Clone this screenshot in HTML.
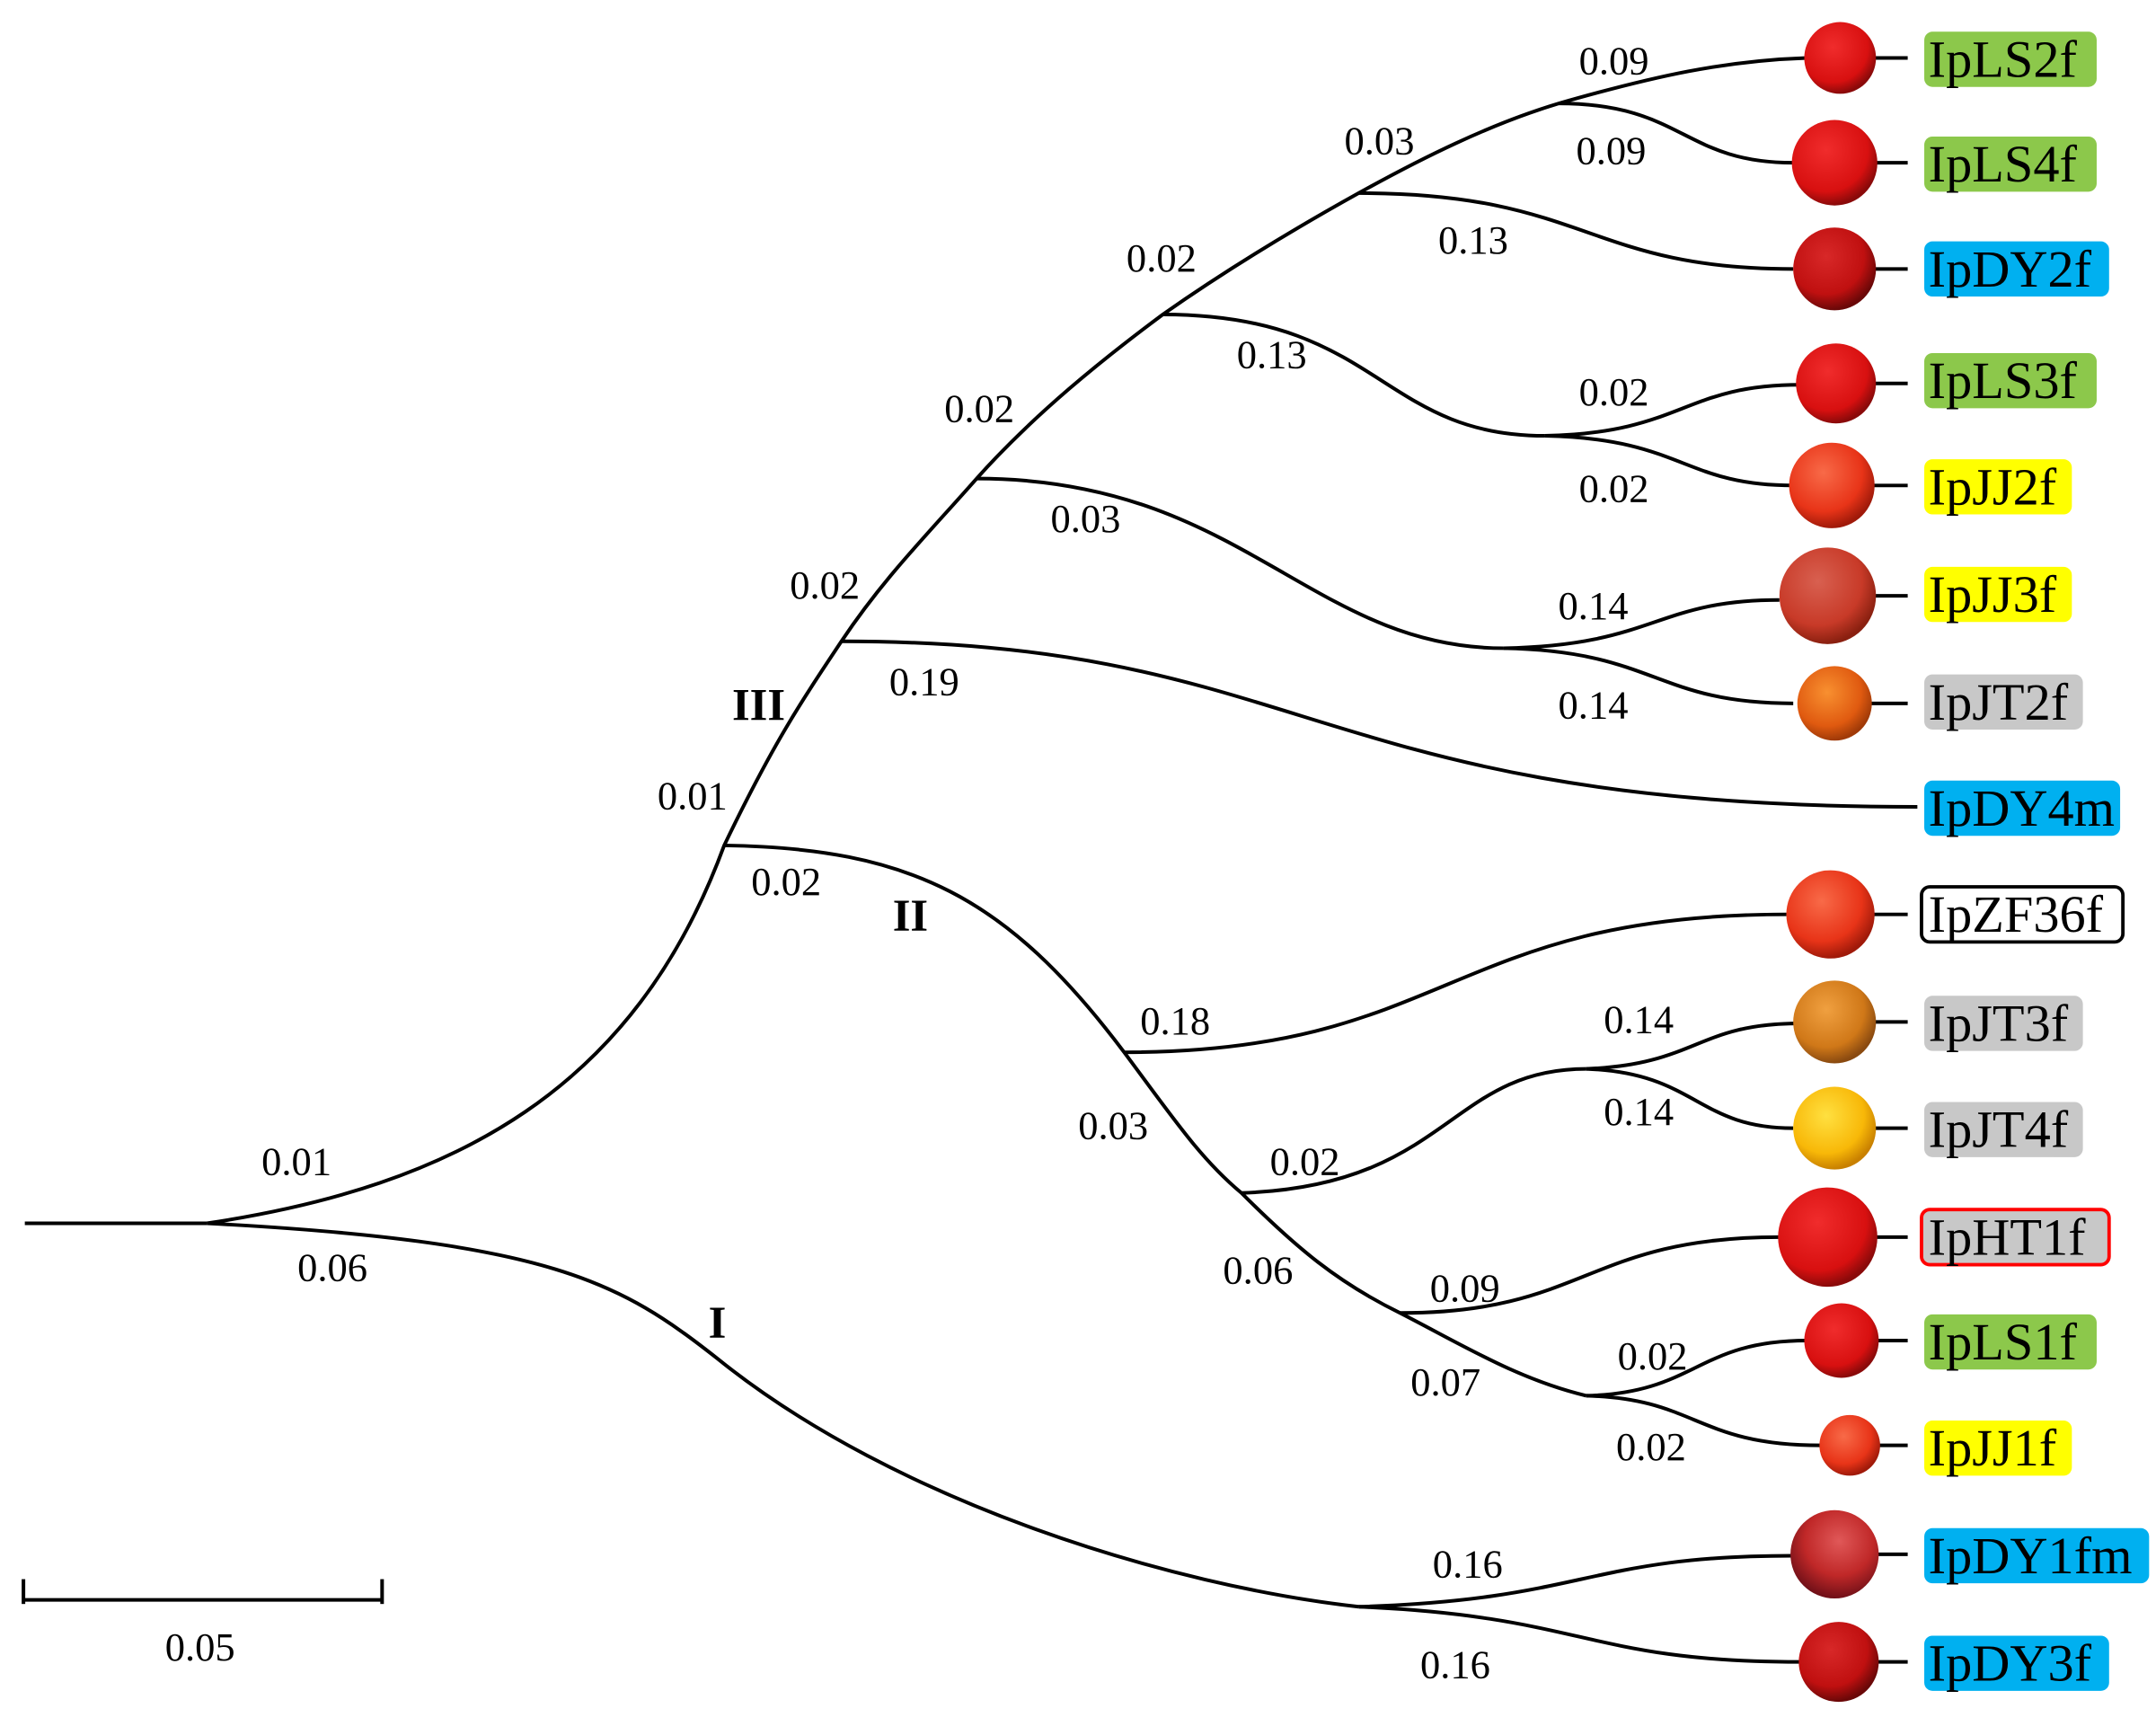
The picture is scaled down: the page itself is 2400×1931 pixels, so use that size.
<!DOCTYPE html>
<html><head><meta charset="utf-8"><style>
html,body{margin:0;padding:0;background:#fff}
svg{display:block}
text{font-family:"Liberation Serif",serif}
.n{font-size:29px;text-anchor:middle;dominant-baseline:central;fill:#000}
.l{font-size:38px;dominant-baseline:central;fill:#000}
.r{font-size:33px;font-weight:bold;text-anchor:middle;dominant-baseline:central}
path,line{fill:none;stroke:#000;stroke-width:2.6}
</style></head><body>
<svg width="2400" height="1931" viewBox="0 0 1563 1258" preserveAspectRatio="none" xmlns="http://www.w3.org/2000/svg">
<defs>
<radialGradient id="red" cx="40%" cy="35%" r="65%"><stop offset="0" stop-color="#f02c2c"/><stop offset="0.75" stop-color="#d81010"/><stop offset="1" stop-color="#8a0a0a"/></radialGradient>
<radialGradient id="dred" cx="40%" cy="35%" r="65%"><stop offset="0" stop-color="#d82828"/><stop offset="0.7" stop-color="#c01010"/><stop offset="1" stop-color="#6a0808"/></radialGradient>
<radialGradient id="ored" cx="40%" cy="35%" r="65%"><stop offset="0" stop-color="#f86a48"/><stop offset="0.7" stop-color="#e83418"/><stop offset="1" stop-color="#a01a0a"/></radialGradient>
<radialGradient id="org" cx="40%" cy="35%" r="65%"><stop offset="0" stop-color="#f89030"/><stop offset="0.7" stop-color="#e05a10"/><stop offset="1" stop-color="#a03a08"/></radialGradient>
<radialGradient id="brn" cx="40%" cy="35%" r="65%"><stop offset="0" stop-color="#f0a040"/><stop offset="0.7" stop-color="#d07818"/><stop offset="1" stop-color="#8a4a10"/></radialGradient>
<radialGradient id="yel" cx="40%" cy="35%" r="65%"><stop offset="0" stop-color="#ffe040"/><stop offset="0.7" stop-color="#f8b808"/><stop offset="1" stop-color="#c88000"/></radialGradient>
<radialGradient id="jj3" cx="40%" cy="35%" r="65%"><stop offset="0" stop-color="#d86050"/><stop offset="0.7" stop-color="#c83a28"/><stop offset="1" stop-color="#8a2010"/></radialGradient>
<radialGradient id="dy1" cx="55%" cy="35%" r="65%"><stop offset="0" stop-color="#e05858"/><stop offset="0.6" stop-color="#c02828"/><stop offset="1" stop-color="#701018"/></radialGradient>
</defs>

<line x1="18" y1="887" x2="150" y2="887"/>
<path d="M150,887 C330,860 460,790 525,613 C560,540 580,510 610,465 C640,420 670,390 708,347 C750,300 800,260 843,228 C890,195 940,165 985,140 C1030,115 1080,90 1130,75 C1200,55 1250,44 1310,42"/>
<path d="M150,887 C400,900 450,930 520,985 C650,1090 850,1150 985,1165"/>
<path d="M985,1165 C1150,1160 1150,1128 1300,1128"/>
<path d="M985,1165 C1150,1172 1150,1205 1305,1205"/>
<path d="M525,613 C660,615 730,650 815,763 C850,810 870,840 900,865 C940,905 970,930 1015,952 C1060,975 1100,1000 1150,1012"/>
<path d="M815,763 C1050,763 1050,663 1295,663"/>
<path d="M900,865 C1050,860 1050,775 1150,775"/>
<path d="M1150,775 C1230,772 1230,742 1305,742"/>
<path d="M1150,775 C1230,778 1230,818 1300,818"/>
<path d="M1015,952 C1150,952 1150,897 1290,897"/>
<path d="M1150,1012 C1230,1010 1230,972 1310,972"/>
<path d="M1150,1012 C1230,1014 1230,1048 1320,1048"/>
<path d="M610,465 C950,465 950,585 1390,585"/>
<path d="M708,347 C900,347 950,470 1090,470"/>
<path d="M1090,470 C1200,468 1200,435 1290,435"/>
<path d="M1090,470 C1200,472 1200,510 1300,510"/>
<path d="M843,228 C1000,228 1000,316 1120,316"/>
<path d="M1120,316 C1220,314 1220,279 1305,279"/>
<path d="M1120,316 C1220,318 1220,352 1300,352"/>
<path d="M985,140 C1150,140 1150,195 1300,195"/>
<path d="M1130,75 C1220,75 1220,118 1300,118"/>

<g>
<line x1="1350" y1="42" x2="1383" y2="42"/><line x1="1350" y1="118" x2="1383" y2="118"/>
<line x1="1350" y1="195" x2="1383" y2="195"/><line x1="1350" y1="278" x2="1383" y2="278"/>
<line x1="1350" y1="352" x2="1383" y2="352"/><line x1="1350" y1="432" x2="1383" y2="432"/>
<line x1="1350" y1="510" x2="1383" y2="510"/><line x1="1350" y1="663" x2="1383" y2="663"/>
<line x1="1350" y1="741" x2="1383" y2="741"/><line x1="1350" y1="818" x2="1383" y2="818"/>
<line x1="1350" y1="897" x2="1383" y2="897"/><line x1="1350" y1="972" x2="1383" y2="972"/>
<line x1="1350" y1="1048" x2="1383" y2="1048"/><line x1="1350" y1="1127" x2="1383" y2="1127"/>
<line x1="1350" y1="1205" x2="1383" y2="1205"/>
</g>

<g stroke="none">
<circle cx="1334" cy="42" r="26" fill="url(#red)"/>
<circle cx="1330" cy="118" r="31" fill="url(#red)"/>
<circle cx="1330" cy="195" r="30" fill="url(#dred)"/>
<circle cx="1331" cy="278" r="29" fill="url(#red)"/>
<circle cx="1328" cy="352" r="31" fill="url(#ored)"/>
<circle cx="1325" cy="432" r="35" fill="url(#jj3)"/>
<circle cx="1330" cy="510" r="27" fill="url(#org)"/>
<circle cx="1327" cy="663" r="32" fill="url(#ored)"/>
<circle cx="1330" cy="741" r="30" fill="url(#brn)"/>
<circle cx="1330" cy="818" r="30" fill="url(#yel)"/>
<circle cx="1325" cy="897" r="36" fill="url(#red)"/>
<circle cx="1335" cy="972" r="27" fill="url(#red)"/>
<circle cx="1341" cy="1048" r="22" fill="url(#ored)"/>
<circle cx="1330" cy="1127" r="32" fill="url(#dy1)"/>
<circle cx="1333" cy="1205" r="29" fill="url(#dred)"/>
</g>

<g stroke="none">
<rect x="1395" y="23" width="125" height="40" rx="6" fill="#8cc84b"/>
<rect x="1395" y="99" width="125" height="40" rx="6" fill="#8cc84b"/>
<rect x="1395" y="175" width="134" height="40" rx="6" fill="#00b0f0"/>
<rect x="1395" y="256" width="125" height="40" rx="6" fill="#8cc84b"/>
<rect x="1395" y="333" width="107" height="40" rx="6" fill="#ffff00"/>
<rect x="1395" y="411" width="107" height="40" rx="6" fill="#ffff00"/>
<rect x="1395" y="489" width="115" height="40" rx="6" fill="#c8c8c8"/>
<rect x="1395" y="566" width="142" height="40" rx="6" fill="#00b0f0"/>
<rect x="1395" y="722" width="115" height="40" rx="6" fill="#c8c8c8"/>
<rect x="1395" y="799" width="115" height="40" rx="6" fill="#c8c8c8"/>
<rect x="1395" y="953" width="125" height="40" rx="6" fill="#8cc84b"/>
<rect x="1395" y="1030" width="107" height="40" rx="6" fill="#ffff00"/>
<rect x="1395" y="1108" width="163" height="40" rx="6" fill="#00b0f0"/>
<rect x="1395" y="1186" width="134" height="40" rx="6" fill="#00b0f0"/>
</g>
<rect x="1393" y="643" width="146" height="40" rx="6" fill="#fff" stroke="#000" stroke-width="2.5"/>
<rect x="1393" y="877" width="136" height="40" rx="6" fill="#c8c8c8" stroke="#f00" stroke-width="2.5"/>
<g>
<text class="l" x="1398" y="43">IpLS2f</text>
<text class="l" x="1398" y="119">IpLS4f</text>
<text class="l" x="1398" y="195">IpDY2f</text>
<text class="l" x="1398" y="276">IpLS3f</text>
<text class="l" x="1398" y="353">IpJJ2f</text>
<text class="l" x="1398" y="431">IpJJ3f</text>
<text class="l" x="1398" y="509">IpJT2f</text>
<text class="l" x="1398" y="586">IpDY4m</text>
<text class="l" x="1398" y="663">IpZF36f</text>
<text class="l" x="1398" y="742">IpJT3f</text>
<text class="l" x="1398" y="819">IpJT4f</text>
<text class="l" x="1398" y="897">IpHT1f</text>
<text class="l" x="1398" y="973">IpLS1f</text>
<text class="l" x="1398" y="1050">IpJJ1f</text>
<text class="l" x="1398" y="1128">IpDY1fm</text>
<text class="l" x="1398" y="1206">IpDY3f</text>
</g>

<g>
<text class="n" x="1170" y="44">0.09</text>
<text class="n" x="1168" y="109">0.09</text>
<text class="n" x="1000" y="102">0.03</text>
<text class="n" x="1068" y="174">0.13</text>
<text class="n" x="842" y="187">0.02</text>
<text class="n" x="922" y="257">0.13</text>
<text class="n" x="710" y="296">0.02</text>
<text class="n" x="1170" y="284">0.02</text>
<text class="n" x="1170" y="354">0.02</text>
<text class="n" x="787" y="376">0.03</text>
<text class="n" x="598" y="424">0.02</text>
<text class="n" x="1155" y="439">0.14</text>
<text class="n" x="670" y="494">0.19</text>
<text class="n" x="1155" y="511">0.14</text>
<text class="n" x="502" y="577">0.01</text>
<text class="n" x="570" y="639">0.02</text>
<text class="n" x="852" y="740">0.18</text>
<text class="n" x="1188" y="739">0.14</text>
<text class="n" x="807" y="816">0.03</text>
<text class="n" x="1188" y="806">0.14</text>
<text class="n" x="946" y="842">0.02</text>
<text class="n" x="215" y="842">0.01</text>
<text class="n" x="241" y="919">0.06</text>
<text class="n" x="912" y="921">0.06</text>
<text class="n" x="1062" y="934">0.09</text>
<text class="n" x="1198" y="983">0.02</text>
<text class="n" x="1048" y="1002">0.07</text>
<text class="n" x="1197" y="1049">0.02</text>
<text class="n" x="1064" y="1134">0.16</text>
<text class="n" x="1055" y="1207">0.16</text>
<text class="n" x="145" y="1194">0.05</text>
<text class="r" x="550" y="511">III</text>
<text class="r" x="660" y="664">II</text>
<text class="r" x="520" y="959">I</text>
</g>

<line x1="16" y1="1160" x2="278" y2="1160" stroke-width="4"/>
<line x1="17" y1="1145" x2="17" y2="1163" stroke-width="4"/>
<line x1="277" y1="1145" x2="277" y2="1163" stroke-width="4"/>
</svg>
</body></html>
